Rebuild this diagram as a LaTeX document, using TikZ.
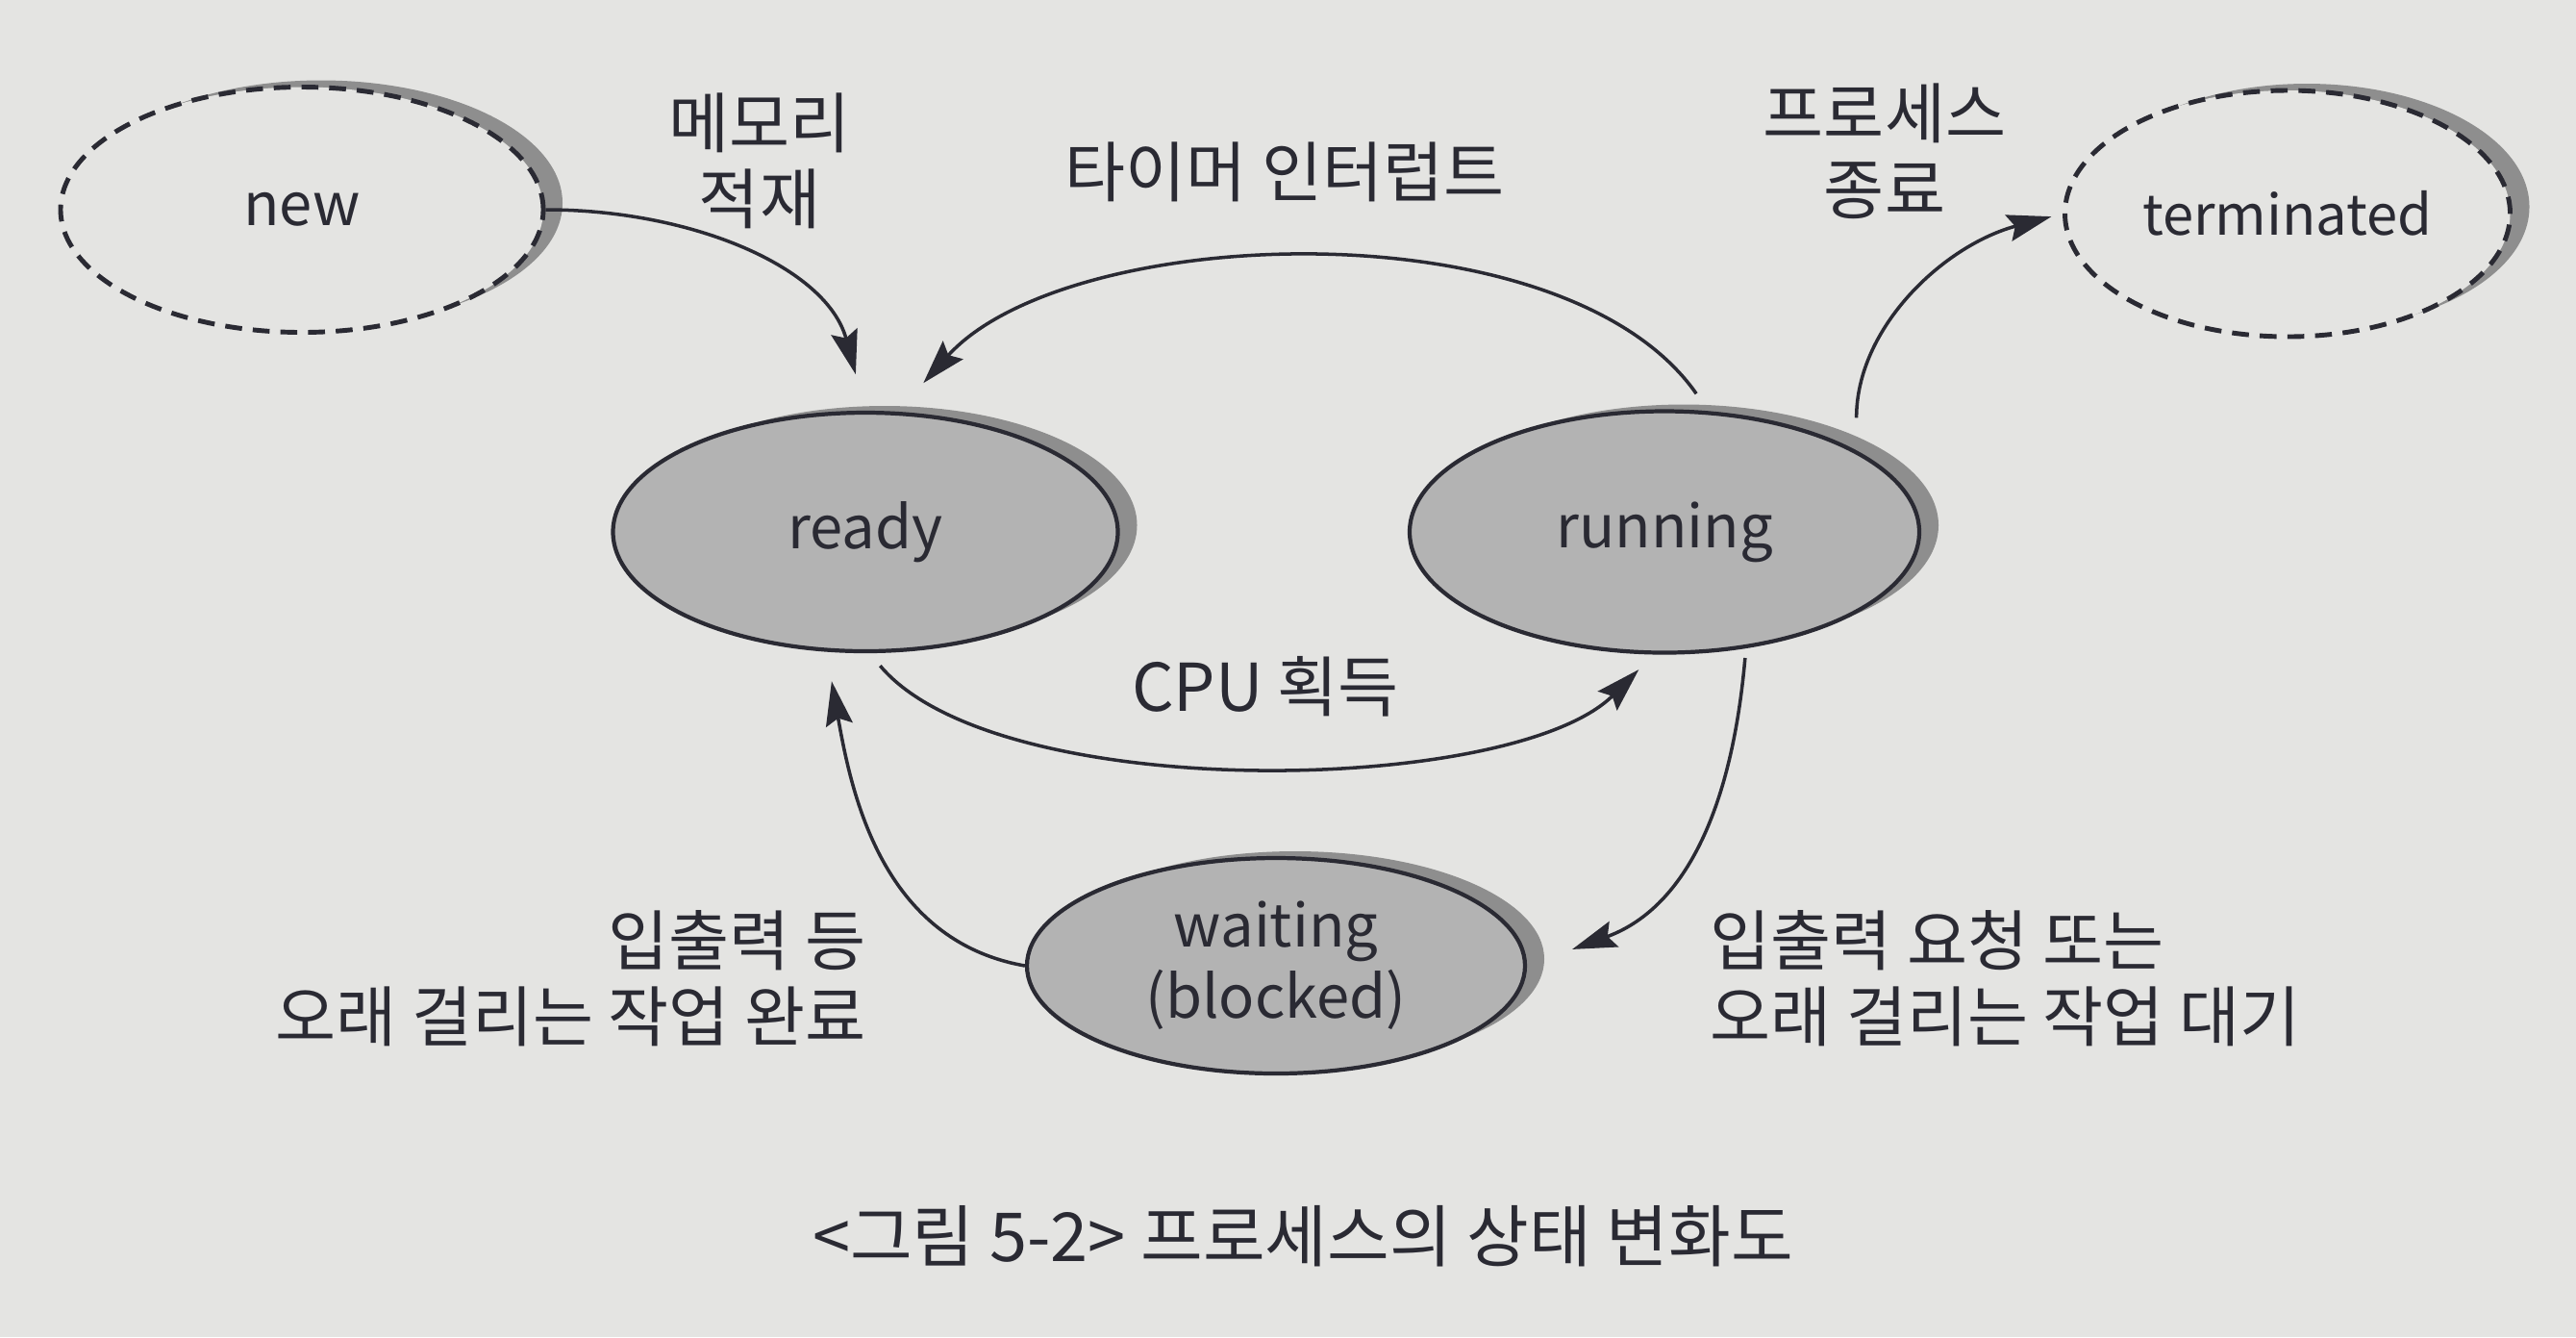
\documentclass[tikz,border=0pt]{standalone}
\usepackage{fontspec}
\setmainfont{Noto Sans CJK KR}
\usepackage{tikz}
\usetikzlibrary{arrows.meta,shapes.geometric,shadows}
\definecolor{paper}{HTML}{E4E4E2}
\definecolor{stategray}{HTML}{B3B3B3}
\definecolor{shadowgray}{HTML}{8E8E8E}
\definecolor{ink}{HTML}{2A2A33}

\begin{document}
\begin{tikzpicture}[shorten >=1pt,->,>={Stealth[length=0.46cm,width=0.28cm,inset=0.07cm]},draw=ink,line width=1pt,font=\fontsize{19.5}{22.5}\selectfont]
    \tikzstyle{state}=[ellipse,draw=ink,line width=1.2pt,inner sep=0pt,text=ink,align=center,font=\fontsize{17.5}{21}\selectfont,drop shadow={shadow xshift=0.2cm,shadow yshift=0.07cm,fill=shadowgray,opacity=1}]
    \tikzstyle{active state}=[state,fill=stategray];
    \tikzstyle{outer state}=[state,fill=paper,line width=1.4pt,dash pattern=on 5pt off 3.2pt];
    \tikzstyle{annot}=[text=ink,align=center,inner sep=0pt]

    \useasboundingbox (0,0) rectangle (26.79,-13.90);
    \fill[paper] (0,0) rectangle (26.79,-13.90);

    % Draw the states
    \node[outer state,minimum width=5.02cm,minimum height=2.55cm] (new) at (3.14,-2.18) {new};
    \node[outer state,minimum width=4.63cm,minimum height=2.56cm,font=\fontsize{16.5}{21}\selectfont] (terminated) at (23.79,-2.22) {terminated};
    \node[active state,minimum width=5.25cm,minimum height=2.48cm] (ready) at (9.00,-5.53) {ready};
    \node[active state,minimum width=5.30cm,minimum height=2.51cm] (running) at (17.31,-5.53) {running};
    \node[active state,minimum width=5.18cm,minimum height=2.24cm] (waiting) at (13.27,-10.04) {waiting\\(blocked)};

    % Draw the transitions
    \path (new.east) edge[out=0,in=105,shorten >=0.39cm] (ready.north);
    \path (running.70) edge[out=125,in=48,looseness=0.8,shorten <=0.22cm,shorten >=0.4cm] (ready.75);
    \path (running.23) edge[out=90,in=195,shorten <=0.34cm,shorten >=0.12cm] (terminated.west);
    \path (ready.-88) edge[out=-50,in=-135,looseness=0.65,shorten <=0.17cm,shorten >=0.22cm] (running.-95);
    \path (running.-55) edge[out=-95,in=20,looseness=1.1,shorten <=0.1cm,shorten >=0.5cm] (waiting.east);
    \path (waiting.west) edge[out=170,in=-80,shorten >=0.31cm] (ready.-108);

    % Annotate the transitions
    \node[annot] (load) at (7.90,-1.67) {메모리\\적재};
    \node[annot] (timer) at (13.36,-1.79) {타이머 인터럽트};
    \node[annot] (exit) at (19.60,-1.57) {프로세스\\종료};
    \node[annot] (cpu) at (13.16,-7.14) {CPU 획득};
    \node[annot,anchor=east,align=right] (iodone) at (9.02,-10.17) {입출력 등\\오래 걸리는 작업 완료};
    \node[annot,anchor=west,align=left] (iowait) at (17.77,-10.17) {입출력 요청 또는\\오래 걸리는 작업 대기};
    %\node[annot] at (13.55,-13.4) {};
    \node[annot,font=\fontsize{20}{24}\selectfont] (caption) at (13.55,-12.85) {<그림 5-2> 프로세스의 상태 변화도};
\end{tikzpicture}
\end{document}
